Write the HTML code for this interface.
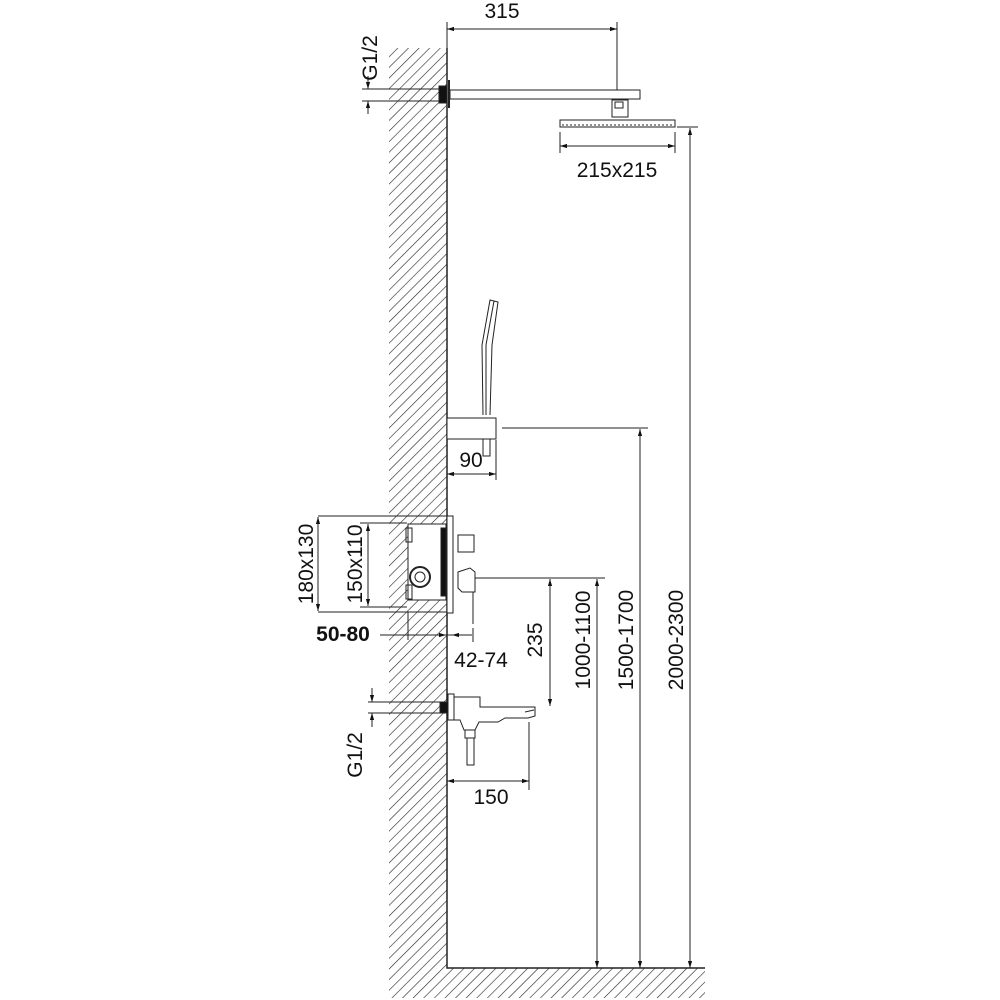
<!DOCTYPE html>
<html><head><meta charset="utf-8"><style>
html,body{margin:0;padding:0;background:#fff}
svg{display:block}
text{font-family:"Liberation Sans",sans-serif;fill:#111}
</style></head><body>
<svg width="1000" height="1000" viewBox="0 0 1000 1000" xmlns="http://www.w3.org/2000/svg">
<defs>
<pattern id="h" width="7.5" height="10" patternUnits="userSpaceOnUse" patternTransform="rotate(45)">
<line x1="0" y1="0" x2="0" y2="10" stroke="#222" stroke-width="1.2"/>
</pattern>
<marker id="a" viewBox="0 0 10 10" refX="10" refY="5" markerWidth="7" markerHeight="7" orient="auto-start-reverse">
<path d="M0,2 L10,5 L0,8 z" fill="#111"/>
</marker>
</defs>
<rect x="389" y="48" width="58" height="950" fill="url(#h)"/>
<rect x="447" y="968" width="258" height="30" fill="url(#h)"/>
<polyline points="447,48 447,968 705,968" fill="none" stroke="#222" stroke-width="1.5"/>
<g stroke="#222" stroke-width="1" fill="none">
<line x1="362" y1="89" x2="440" y2="89"/><line x1="362" y1="101" x2="440" y2="101"/>
<line x1="368" y1="76" x2="368" y2="89" marker-end="url(#a)"/>
<line x1="368" y1="114" x2="368" y2="101" marker-end="url(#a)"/>
<rect x="439" y="86" width="8" height="17" fill="#111"/>
<line x1="449" y1="80" x2="449" y2="108" stroke-width="2"/>
<line x1="447" y1="22" x2="447" y2="85"/><line x1="617" y1="22" x2="617" y2="100"/>
<line x1="447" y1="29" x2="617" y2="29" marker-start="url(#a)" marker-end="url(#a)"/>
<rect x="450" y="90" width="190" height="9" fill="#fff"/>
<rect x="612" y="100" width="16" height="17" fill="#fff"/>
<rect x="615" y="102" width="8" height="6"/>
<rect x="560" y="120" width="115" height="7" fill="#fff"/>
<line x1="562" y1="125" x2="673" y2="125" stroke-dasharray="2,2"/>
<line x1="560" y1="132" x2="560" y2="153"/><line x1="675" y1="132" x2="675" y2="153"/>
<line x1="560" y1="146" x2="675" y2="146" marker-start="url(#a)" marker-end="url(#a)"/>
<line x1="677" y1="127" x2="698" y2="127"/>
<line x1="690" y1="128" x2="690" y2="968" marker-start="url(#a)" marker-end="url(#a)"/>
<path d="M483,415 L482,345 L490,300 L498,302 L492,345 L490,415"/>
<line x1="486" y1="345" x2="494" y2="301"/>
<line x1="486" y1="345" x2="486" y2="415"/>
<rect x="447" y="418" width="49" height="21" fill="#fff"/>
<rect x="483" y="439" width="7" height="17"/>
<line x1="502" y1="428" x2="648" y2="428"/>
<line x1="640" y1="429" x2="640" y2="968" marker-start="url(#a)" marker-end="url(#a)"/>
<line x1="447" y1="440" x2="447" y2="480"/><line x1="496" y1="440" x2="496" y2="480"/>
<line x1="447" y1="474" x2="496" y2="474" marker-start="url(#a)" marker-end="url(#a)"/>
<line x1="318" y1="516" x2="447" y2="516"/><line x1="318" y1="612" x2="447" y2="612"/>
<line x1="318" y1="517" x2="318" y2="611" marker-start="url(#a)" marker-end="url(#a)"/>
<line x1="360" y1="523" x2="407" y2="523"/><line x1="360" y1="607" x2="407" y2="607"/>
<line x1="368" y1="524" x2="368" y2="606" marker-start="url(#a)" marker-end="url(#a)"/>
<rect x="408" y="524" width="38" height="76" fill="#fff"/>
<rect x="441" y="528" width="5" height="68" fill="#111"/>
<rect x="406" y="528" width="6" height="14"/><rect x="406" y="585" width="6" height="14"/>
<circle cx="420" cy="577" r="10" stroke-width="2"/><circle cx="420" cy="577" r="5"/>
<rect x="447" y="516" width="6" height="97" fill="#fff"/>
<rect x="458" y="535" width="16" height="17" fill="#fff"/>
<path d="M458,572 L470,568 L475,572 L475,592 L462,592 L458,588 z" fill="#fff"/>
<line x1="473" y1="592" x2="473" y2="624"/>
<line x1="475" y1="578" x2="605" y2="578"/>
<line x1="380" y1="635" x2="472" y2="635"/>
<line x1="408" y1="612" x2="408" y2="640"/>
<line x1="420" y1="635" x2="446" y2="635" marker-end="url(#a)"/>
<line x1="452" y1="635" x2="462" y2="635" marker-start="url(#a)"/>
<line x1="473" y1="628" x2="473" y2="642"/>
<line x1="550" y1="579" x2="550" y2="706" marker-start="url(#a)" marker-end="url(#a)"/>
<line x1="597" y1="579" x2="597" y2="968" marker-start="url(#a)" marker-end="url(#a)"/>
<line x1="368" y1="702" x2="440" y2="702"/><line x1="368" y1="713" x2="440" y2="713"/>
<line x1="372" y1="688" x2="372" y2="702" marker-end="url(#a)"/>
<line x1="372" y1="727" x2="372" y2="713" marker-end="url(#a)"/>
<rect x="440" y="702" width="8" height="11" fill="#111"/>
<rect x="448" y="694" width="6" height="26" fill="#fff"/>
<path d="M454,697 L480,697 L480,707 L535,707 L535,716 L528,718 L505,718 L498,722 L479,722 L475,730 L464,730 L460,720 L454,720 z" fill="#fff"/>
<line x1="525" y1="712" x2="534" y2="710"/>
<rect x="465" y="730" width="10" height="8"/>
<rect x="467" y="738" width="7" height="27"/>
<line x1="447" y1="722" x2="447" y2="790"/><line x1="529" y1="722" x2="529" y2="790"/>
<line x1="447" y1="781" x2="529" y2="781" marker-start="url(#a)" marker-end="url(#a)"/>
</g>
<g font-size="21">
<text x="502" y="18" text-anchor="middle">315</text>
<text x="617" y="177" text-anchor="middle">215x215</text>
<text x="471" y="467" text-anchor="middle">90</text>
<text x="481" y="667" text-anchor="middle">42-74</text>
<text x="491" y="804" text-anchor="middle">150</text>
<text x="343" y="641" text-anchor="middle" font-weight="bold">50-80</text>
<text transform="translate(377,58) rotate(-90)" text-anchor="middle">G1/2</text>
<text transform="translate(362,755) rotate(-90)" text-anchor="middle">G1/2</text>
<text transform="translate(313,564) rotate(-90)" text-anchor="middle">180x130</text>
<text transform="translate(362,564) rotate(-90)" text-anchor="middle">150x110</text>
<text transform="translate(542,640) rotate(-90)" text-anchor="middle">235</text>
<text transform="translate(590,640) rotate(-90)" text-anchor="middle">1000-1100</text>
<text transform="translate(633,640) rotate(-90)" text-anchor="middle">1500-1700</text>
<text transform="translate(683,640) rotate(-90)" text-anchor="middle">2000-2300</text>
</g>
</svg>
</body></html>
